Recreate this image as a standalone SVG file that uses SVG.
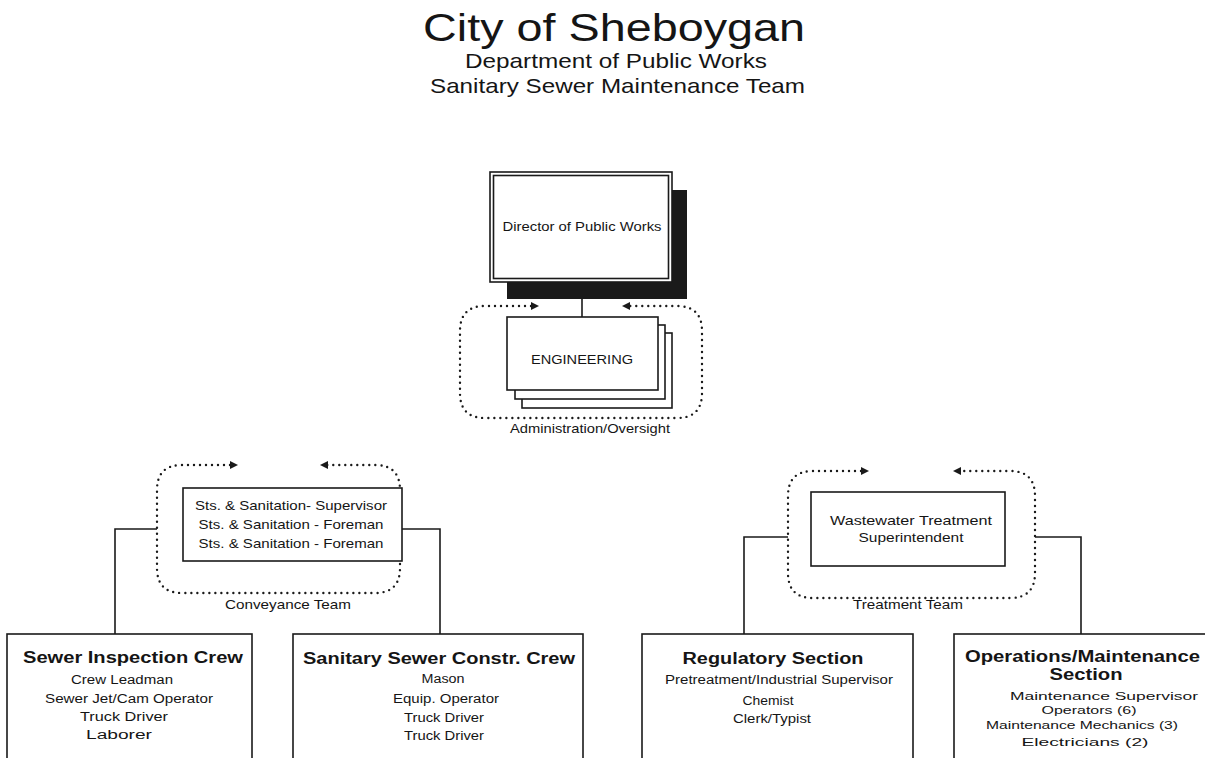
<svg xmlns="http://www.w3.org/2000/svg" width="1205" height="758" viewBox="0 0 1205 758">
<style>
.t{font-family:"Liberation Sans",Arial,sans-serif;fill:#151515;text-anchor:middle}
.b{font-weight:bold}
.box{fill:#fff;stroke:#1a1a1a;stroke-width:1.6}
.ln{fill:none;stroke:#1a1a1a;stroke-width:1.6}
.dot{fill:none;stroke:#1a1a1a;stroke-width:2.4;stroke-linecap:round;stroke-dasharray:0 6}
.ah{fill:#1a1a1a}
</style>
<rect width="1205" height="758" fill="#fff"/>
<g id="title">
<text class="t" x="614" y="41" font-size="39" textLength="382" lengthAdjust="spacingAndGlyphs">City of Sheboygan</text>
<text class="t" x="616" y="68" font-size="21" textLength="302" lengthAdjust="spacingAndGlyphs">Department of Public Works</text>
<text class="t" x="617.5" y="93" font-size="21" textLength="375" lengthAdjust="spacingAndGlyphs">Sanitary Sewer Maintenance Team</text>
</g>
<g id="connectors">
<line class="ln" x1="582" y1="299" x2="582" y2="317"/>
<polyline class="ln" points="157,529 115,529 115,634"/>
<polyline class="ln" points="402,529 440,529 440,634"/>
<polyline class="ln" points="788,537 744,537 744,634"/>
<polyline class="ln" points="1035,537 1081,537 1081,634"/>
</g>
<g id="director">
<rect x="507" y="190" width="180" height="109" fill="#1a1a1a"/>
<rect class="box" x="490" y="172" width="182" height="110"/>
<rect class="box" x="493.5" y="175.5" width="175" height="103" stroke-width="1.2"/>
<text class="t" x="582" y="231" font-size="12.5" textLength="159" lengthAdjust="spacingAndGlyphs">Director of Public Works</text>
</g>
<g id="engineering">
<path class="dot" d="M531 306 H485 Q460 306 460 331 V393 Q460 418 485 418 H677 Q702 418 702 393 V331 Q702 306 677 306 H629"/>
<polygon class="ah" points="531,302 539,306 531,310"/>
<polygon class="ah" points="630,302 622,306 630,310"/>
<rect class="box" x="522" y="333" width="150" height="75"/>
<rect class="box" x="515" y="325" width="150" height="74"/>
<rect class="box" x="507" y="317" width="151" height="73"/>
<text class="t" x="582" y="364" font-size="13.5" textLength="102" lengthAdjust="spacingAndGlyphs">ENGINEERING</text>
<text class="t" x="590" y="433" font-size="13.5" textLength="160" lengthAdjust="spacingAndGlyphs">Administration/Oversight</text>
</g>
<g id="conveyance">
<path class="dot" d="M230 465 H182 Q157 465 157 490 V568 Q157 593 182 593 H375 Q400 593 400 568 V490 Q400 465 375 465 H327"/>
<polygon class="ah" points="230,461 238,465 230,469"/>
<polygon class="ah" points="328,461 320,465 328,469"/>
<rect class="box" x="183" y="488" width="219" height="73"/>
<text class="t" x="291" y="510" font-size="13" textLength="192" lengthAdjust="spacingAndGlyphs">Sts. &amp; Sanitation- Supervisor</text>
<text class="t" x="291" y="529" font-size="13" textLength="185" lengthAdjust="spacingAndGlyphs">Sts. &amp; Sanitation - Foreman</text>
<text class="t" x="291" y="548" font-size="13" textLength="185" lengthAdjust="spacingAndGlyphs">Sts. &amp; Sanitation - Foreman</text>
<text class="t" x="288" y="609" font-size="13" textLength="126" lengthAdjust="spacingAndGlyphs">Conveyance Team</text>
</g>
<g id="treatment">
<path class="dot" d="M861 471 H813 Q788 471 788 496 V573 Q788 598 813 598 H1010 Q1035 598 1035 573 V496 Q1035 471 1010 471 H960"/>
<polygon class="ah" points="861,467 869,471 861,475"/>
<polygon class="ah" points="961,467 953,471 961,475"/>
<rect class="box" x="811" y="492" width="194" height="74"/>
<text class="t" x="911" y="525" font-size="13" textLength="162" lengthAdjust="spacingAndGlyphs">Wastewater Treatment</text>
<text class="t" x="911" y="542" font-size="13" textLength="105" lengthAdjust="spacingAndGlyphs">Superintendent</text>
<text class="t" x="908" y="609" font-size="13" textLength="110" lengthAdjust="spacingAndGlyphs">Treatment Team</text>
</g>
<g id="sewer-inspection">
<rect class="box" x="7" y="634" width="245" height="140"/>
<text class="t b" x="133" y="663" font-size="16" textLength="220" lengthAdjust="spacingAndGlyphs">Sewer Inspection Crew</text>
<text class="t" x="122" y="684" font-size="12.5" textLength="102" lengthAdjust="spacingAndGlyphs">Crew Leadman</text>
<text class="t" x="129" y="703" font-size="12.5" textLength="168" lengthAdjust="spacingAndGlyphs">Sewer Jet/Cam Operator</text>
<text class="t" x="124" y="721" font-size="12.5" textLength="88" lengthAdjust="spacingAndGlyphs">Truck Driver</text>
<text class="t" x="119" y="739" font-size="12.5" textLength="66" lengthAdjust="spacingAndGlyphs">Laborer</text>
</g>
<g id="sanitary-construction">
<rect class="box" x="293" y="634" width="290" height="140"/>
<text class="t b" x="439" y="664" font-size="16" textLength="272" lengthAdjust="spacingAndGlyphs">Sanitary Sewer Constr. Crew</text>
<text class="t" x="443" y="683" font-size="12.5" textLength="43" lengthAdjust="spacingAndGlyphs">Mason</text>
<text class="t" x="446" y="703" font-size="12.5" textLength="106" lengthAdjust="spacingAndGlyphs">Equip. Operator</text>
<text class="t" x="444" y="722" font-size="12.5" textLength="80" lengthAdjust="spacingAndGlyphs">Truck Driver</text>
<text class="t" x="444" y="740" font-size="12.5" textLength="80" lengthAdjust="spacingAndGlyphs">Truck Driver</text>
</g>
<g id="regulatory">
<rect class="box" x="642" y="634" width="271" height="140"/>
<text class="t b" x="773" y="664" font-size="16" textLength="181" lengthAdjust="spacingAndGlyphs">Regulatory Section</text>
<text class="t" x="779" y="684" font-size="12" textLength="228" lengthAdjust="spacingAndGlyphs">Pretreatment/Industrial Supervisor</text>
<text class="t" x="768" y="705" font-size="12.5" textLength="51" lengthAdjust="spacingAndGlyphs">Chemist</text>
<text class="t" x="772" y="723" font-size="12.5" textLength="78" lengthAdjust="spacingAndGlyphs">Clerk/Typist</text>
</g>
<g id="operations">
<rect class="box" x="954" y="634" width="270" height="140"/>
<text class="t b" x="1082.5" y="662" font-size="16" textLength="235" lengthAdjust="spacingAndGlyphs">Operations/Maintenance</text>
<text class="t b" x="1086" y="680" font-size="16" textLength="73" lengthAdjust="spacingAndGlyphs">Section</text>
<text class="t" x="1104" y="700" font-size="11.5" textLength="188" lengthAdjust="spacingAndGlyphs">Maintenance Supervisor</text>
<text class="t" x="1089" y="714" font-size="11.5" textLength="95" lengthAdjust="spacingAndGlyphs">Operators (6)</text>
<text class="t" x="1082" y="729" font-size="11.5" textLength="192" lengthAdjust="spacingAndGlyphs">Maintenance Mechanics (3)</text>
<text class="t" x="1085" y="746" font-size="11.5" textLength="127" lengthAdjust="spacingAndGlyphs">Electricians (2)</text>
</g>
</svg>
